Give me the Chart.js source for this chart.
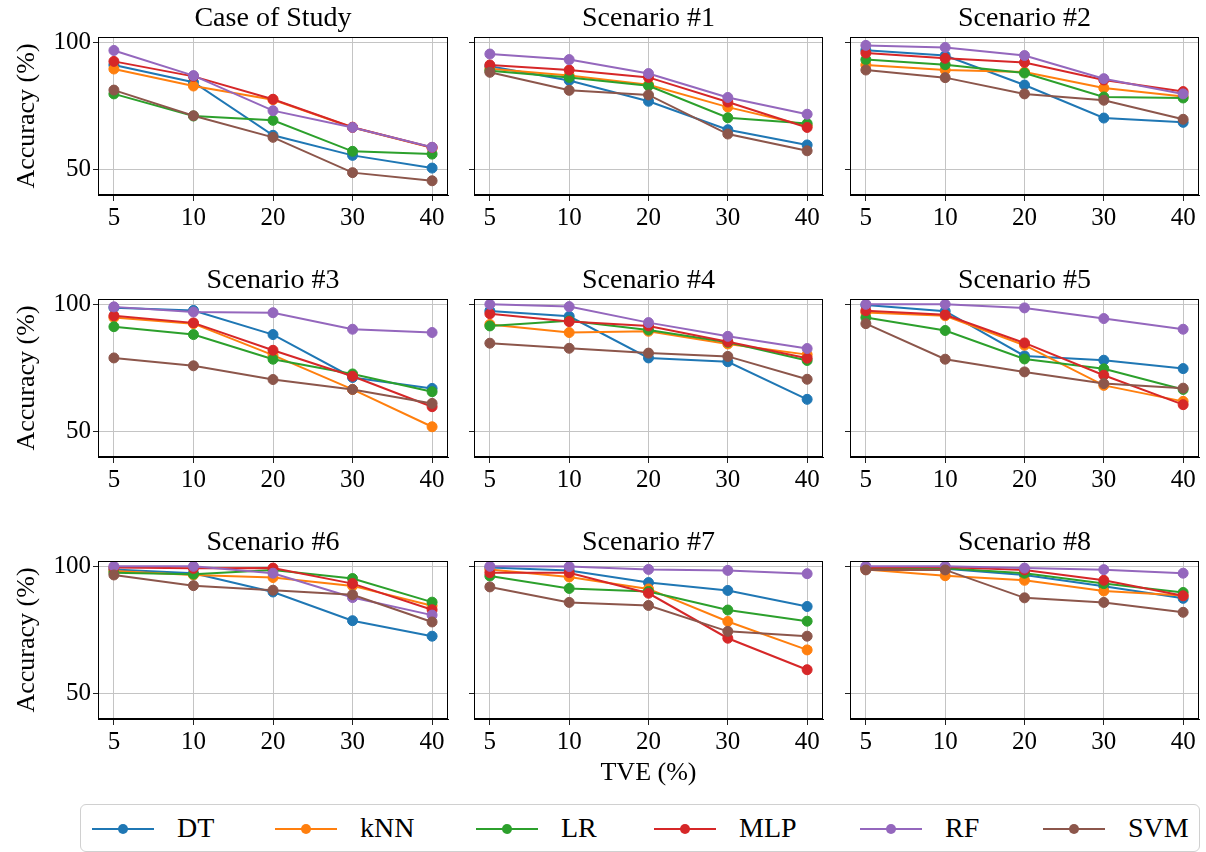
<!DOCTYPE html>
<html>
<head>
<meta charset="utf-8">
<script src="https://cdn.jsdelivr.net/npm/chart.js@4.4.0/dist/chart.umd.min.js"></script>
<style>
  html, body { margin: 0; padding: 0; background: #fff; overflow: hidden; }
  #fig { position: relative; width: 1206px; height: 852px; font-family: 'Liberation Serif', serif; color: #000; }
  #fig canvas { position: absolute; }
  #legend { position: absolute; left: 80px; top: 804px; width: 1120px; height: 48px;
            border: 1px solid #d0d0d0; border-radius: 6px; box-sizing: border-box; background: #fff; }
  .handle { position: absolute; top: 13px; }
  .label { position: absolute; top: 6px; font-size: 28px; line-height: 34px; white-space: nowrap; }
</style>
</head>
<body>
<div id="fig"><div id="legend"></div></div>
<script>
// TVE levels (x categories) and classifier names
const tve = ['5', '10', '20', '30', '40'];
const algorithms = ['DT', 'kNN', 'LR', 'MLP', 'RF', 'SVM'];
const yTicks = [50, 100];
const panelTitles = ['Case of Study', 'Scenario #1', 'Scenario #2', 'Scenario #3', 'Scenario #4',
                     'Scenario #5', 'Scenario #6', 'Scenario #7', 'Scenario #8'];

// Accuracy (%) per panel, rows in the order of `algorithms`
const accCaseOfStudy = [
  [91.1, 84.3, 63.4, 55.5, 50.5],
  [89.5, 82.8, 77.4, 66.5, 58.5],
  [79.7, 71.0, 69.3, 57.1, 56.0],
  [92.5, 86.6, 77.6, 66.6, 58.6],
  [96.8, 86.9, 73.1, 66.5, 58.7],
  [81.2, 71.1, 62.6, 48.7, 45.5]
];
const accScenario1 = [
  [90.6, 85.0, 76.8, 65.6, 59.6],
  [89.6, 86.9, 83.3, 74.5, 67.2],
  [88.8, 86.2, 82.9, 70.3, 68.0],
  [91.1, 89.1, 86.2, 76.5, 66.5],
  [95.4, 93.2, 87.7, 78.3, 71.7],
  [88.2, 81.1, 79.3, 63.9, 57.3]
];
const accScenario2 = [
  [96.9, 94.8, 83.2, 70.2, 68.5],
  [91.1, 89.1, 88.3, 82.0, 78.7],
  [93.2, 91.2, 87.9, 78.5, 78.1],
  [95.8, 93.7, 92.1, 85.2, 80.6],
  [98.8, 98.0, 94.8, 85.7, 79.7],
  [89.1, 86.1, 79.7, 77.2, 69.7]
];
const accScenario3 = [
  [98.7, 97.6, 88.1, 71.2, 66.9],
  [94.8, 92.4, 80.0, 66.5, 51.8],
  [91.2, 88.1, 78.4, 72.6, 65.6],
  [95.5, 92.7, 81.9, 71.7, 59.7],
  [99.0, 97.0, 96.7, 90.2, 88.9],
  [78.9, 75.8, 70.4, 66.5, 61.0]
];
const accScenario4 = [
  [97.4, 95.3, 78.9, 77.4, 62.6],
  [92.1, 88.9, 89.4, 84.4, 80.2],
  [91.5, 93.5, 89.9, 85.1, 77.9],
  [96.3, 93.2, 91.5, 85.3, 78.8],
  [100.0, 99.1, 92.8, 87.4, 82.6],
  [84.7, 82.7, 80.8, 79.5, 70.5]
];
const accScenario5 = [
  [99.7, 97.3, 79.7, 78.0, 74.7],
  [96.8, 95.5, 83.9, 68.1, 61.8],
  [94.8, 89.7, 78.5, 74.6, 66.5],
  [97.5, 95.9, 84.8, 72.1, 60.5],
  [100.0, 100.0, 98.6, 94.4, 90.2],
  [92.4, 78.4, 73.4, 68.8, 67.0]
];
const accScenario6 = [
  [98.8, 97.3, 89.9, 78.6, 72.5],
  [98.2, 96.6, 95.6, 92.3, 84.5],
  [97.5, 96.9, 98.6, 95.2, 85.9],
  [99.5, 99.2, 99.3, 93.2, 82.9],
  [100.0, 100.0, 97.3, 87.7, 80.8],
  [96.6, 92.4, 90.6, 88.8, 78.1]
];
const accScenario7 = [
  [99.5, 98.4, 93.6, 90.5, 84.2],
  [98.8, 95.8, 91.1, 78.3, 67.1],
  [96.2, 91.3, 90.1, 82.8, 78.4],
  [97.5, 97.5, 89.4, 71.7, 59.3],
  [100.0, 99.9, 98.8, 98.4, 97.1],
  [91.9, 85.8, 84.6, 74.4, 72.5]
];
const accScenario8 = [
  [99.5, 99.0, 96.6, 92.2, 87.4],
  [98.8, 96.3, 94.5, 90.3, 88.5],
  [99.3, 99.2, 97.3, 93.2, 89.7],
  [99.4, 99.7, 98.6, 94.5, 88.4],
  [100.0, 100.0, 99.3, 98.7, 97.3],
  [98.6, 98.6, 87.6, 85.8, 81.9]
];

const panels = [accCaseOfStudy, accScenario1, accScenario2, accScenario3, accScenario4,
                accScenario5, accScenario6, accScenario7, accScenario8];

// ---- styling and layout ----
const colors = ['#1f77b4', '#ff7f0e', '#2ca02c', '#d62728', '#9467bd', '#8c564b'];
const FONT = "'Liberation Serif', 'Times New Roman', serif";
const AREA_LEFT = [98, 474, 850];
const AREA_W = [350, 349, 349];
const AREA_TOP = [37, 299, 561];
const AREA_H = 158;
const TITLE_H = 32;      // 28px line + 4px gap
const RIGHT_PAD = 8;
const Y_MIN = 39.9, Y_MAX = 102.1;
const GRID = '#c4c4c4';

Chart.defaults.font.family = FONT;
Chart.defaults.color = '#000';

// full box around each plotting area
const frame = {
  id: 'frame',
  afterDraw(chart) {
    const a = chart.chartArea, ctx = chart.ctx;
    ctx.save();
    ctx.strokeStyle = '#000';
    ctx.lineWidth = 1;
    ctx.strokeRect(Math.round(a.left) + 0.5, Math.round(a.top) + 0.5,
                   Math.round(a.right - a.left) - 1, Math.round(a.bottom - a.top) - 1);
    ctx.restore();
  }
};

const fig = document.getElementById('fig');

function makePanel(idx) {
  const series = panels[idx];
  const row = Math.floor(idx / 3), col = idx % 3;
  const yW = col === 0 ? 98 : 20;
  const isBottomMiddle = row === 2 && col === 1;
  const xH = isBottomMiddle ? 72 : 40;
  const w = yW + AREA_W[col] + RIGHT_PAD;
  const h = TITLE_H + AREA_H + xH;
  const canvas = document.createElement('canvas');
  canvas.width = w; canvas.height = h;
  canvas.style.width = w + 'px'; canvas.style.height = h + 'px';
  canvas.style.left = (AREA_LEFT[col] - yW) + 'px';
  canvas.style.top = (AREA_TOP[row] - TITLE_H) + 'px';
  fig.appendChild(canvas);

  new Chart(canvas, {
    type: 'line',
    data: {
      datasets: algorithms.map((name, i) => ({
        label: name,
        data: series[i].map((v, k) => ({ x: k, y: v })),
        borderColor: colors[i],
        backgroundColor: colors[i],
        pointBackgroundColor: colors[i],
        pointBorderColor: colors[i],
        borderWidth: 2,
        pointRadius: 5,
        pointHoverRadius: 5,
        pointBorderWidth: 1,
        tension: 0,
        order: algorithms.length - 1 - i
      }))
    },
    options: {
      responsive: false,
      animation: false,
      devicePixelRatio: 1,
      events: [],
      layout: { padding: { left: 0, right: RIGHT_PAD, top: 0, bottom: 0 } },
      plugins: {
        legend: { display: false },
        tooltip: { enabled: false },
        title: {
          display: true, text: panelTitles[idx], fullSize: false, color: '#000',
          font: { family: FONT, size: 28, weight: 'normal', lineHeight: '28px' },
          padding: { top: 0, bottom: 4 }
        }
      },
      scales: {
        x: {
          type: 'linear', min: -0.2, max: 4.2, bounds: 'data',
          afterBuildTicks: s => { s.ticks = tve.map((_, k) => ({ value: k })); },
          afterFit: s => { s.height = xH; },
          ticks: { callback: v => tve[v], color: '#000', font: { family: FONT, size: 25 }, padding: 2,
                   maxRotation: 0, autoSkip: false },
          grid: { color: GRID, lineWidth: 1, tickColor: '#222', tickLength: 6 },
          border: { color: '#000', width: 1 },
          title: { display: isBottomMiddle, text: 'TVE (%)', color: '#000',
                   font: { family: FONT, size: 26 }, padding: { top: 0, bottom: 2 } }
        },
        y: {
          type: 'linear', min: Y_MIN, max: Y_MAX, bounds: 'data',
          afterBuildTicks: s => { s.ticks = yTicks.map(v => ({ value: v })); },
          afterFit: s => { s.width = yW; },
          ticks: { display: col === 0, color: '#000', font: { family: FONT, size: 25 }, padding: 2 },
          grid: { color: GRID, lineWidth: 1, tickColor: '#222', tickLength: 5 },
          border: { color: '#000', width: 1 },
          title: { display: col === 0, text: 'Accuracy (%)', color: '#000',
                   font: { family: FONT, size: 26 }, padding: { top: 12, bottom: 0 } }
        }
      }
    },
    plugins: [frame]
  });
}

for (let i = 0; i < panels.length; i++) makePanel(i);

// legend row beneath the grid
const LEGEND_X = [92, 275, 476, 654, 860, 1043];
const legend = document.getElementById('legend');
algorithms.forEach((name, i) => {
  const left = LEGEND_X[i] - 81;
  const svgNS = 'http://www.w3.org/2000/svg';
  const svg = document.createElementNS(svgNS, 'svg');
  svg.setAttribute('width', '62'); svg.setAttribute('height', '22');
  svg.setAttribute('class', 'handle');
  svg.style.left = left + 'px';
  const line = document.createElementNS(svgNS, 'line');
  line.setAttribute('x1', '0'); line.setAttribute('x2', '62');
  line.setAttribute('y1', '11'); line.setAttribute('y2', '11');
  line.setAttribute('stroke', colors[i]); line.setAttribute('stroke-width', '2');
  const dot = document.createElementNS(svgNS, 'circle');
  dot.setAttribute('cx', '31'); dot.setAttribute('cy', '11'); dot.setAttribute('r', '5');
  dot.setAttribute('fill', colors[i]);
  svg.appendChild(line); svg.appendChild(dot);
  legend.appendChild(svg);
  const label = document.createElement('div');
  label.className = 'label';
  label.textContent = name;
  label.style.left = (left + 85) + 'px';
  legend.appendChild(label);
});
</script>
</body>
</html>
